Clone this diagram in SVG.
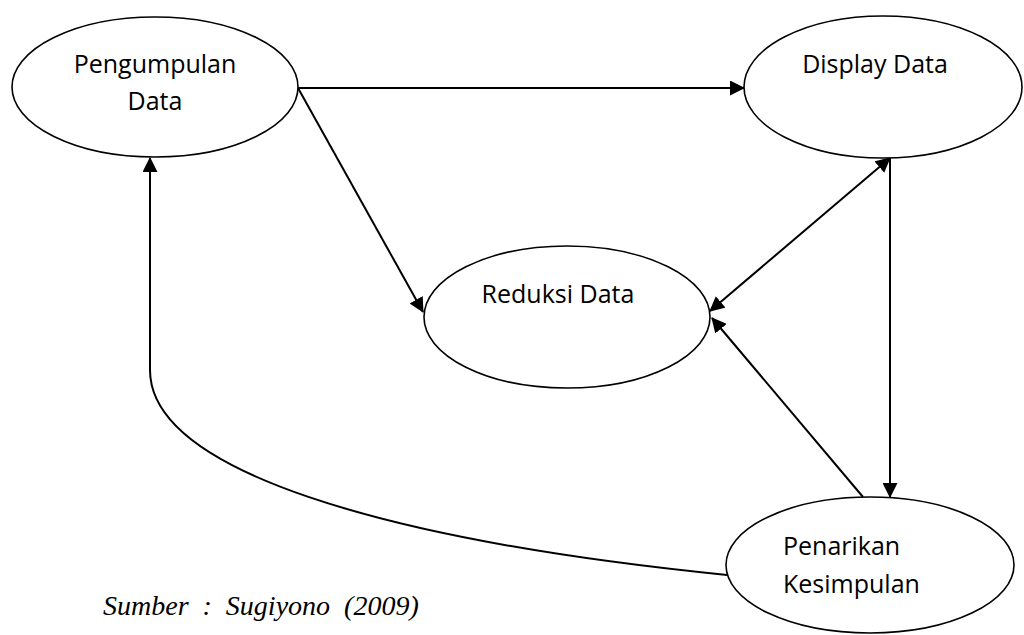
<svg xmlns="http://www.w3.org/2000/svg" width="1024" height="635" viewBox="0 0 1024 635">
<style>
.node ellipse{fill:#fff;stroke:#000;stroke-width:1.6}
.lbl{font-family:"Open Sans","Liberation Sans",sans-serif;font-size:25px;fill:#000}
.c{text-anchor:middle}
.edge{fill:none;stroke:#000;stroke-width:2}
.src{font-family:"Liberation Serif",serif;font-style:italic;font-size:28px;word-spacing:7px;fill:#000}
</style>
<defs>
<marker id="ah" markerUnits="userSpaceOnUse" viewBox="0 0 15 15" refX="14" refY="7.5" markerWidth="15" markerHeight="15" orient="auto-start-reverse">
<path d="M0,0 L15,7.5 L0,15 z" fill="#000"/>
</marker>
</defs>
<rect width="1024" height="635" fill="#fff"/>
<g id="connectors">
<path class="edge" d="M298,88 L744,88" marker-end="url(#ah)"/>
<path class="edge" d="M298,88 L423,312" marker-end="url(#ah)"/>
<path class="edge" d="M890,158 L710,311" marker-start="url(#ah)" marker-end="url(#ah)"/>
<path class="edge" d="M890,158 L890,497" marker-end="url(#ah)"/>
<path class="edge" d="M863,497 L712,318" marker-end="url(#ah)"/>
<path class="edge" d="M727,575 C380,540 150,470 150,370 L150,158" marker-end="url(#ah)"/>
</g>
<g id="pengumpulan" class="node">
<ellipse cx="155" cy="87" rx="143" ry="70"/>
<text class="lbl c" x="155" y="73">Pengumpulan</text>
<text class="lbl c" x="155" y="110">Data</text>
</g>
<g id="display" class="node">
<ellipse cx="883" cy="87" rx="139" ry="71"/>
<text class="lbl c" x="875" y="73">Display Data</text>
</g>
<g id="reduksi" class="node">
<ellipse cx="567" cy="317" rx="143" ry="71"/>
<text class="lbl c" x="558" y="303">Reduksi Data</text>
</g>
<g id="penarikan" class="node">
<ellipse cx="870" cy="565" rx="144" ry="68"/>
<text class="lbl" x="783" y="555">Penarikan</text>
<text class="lbl" x="783" y="593">Kesimpulan</text>
</g>
<text class="src" x="103" y="615">Sumber : Sugiyono (2009)</text>
</svg>
